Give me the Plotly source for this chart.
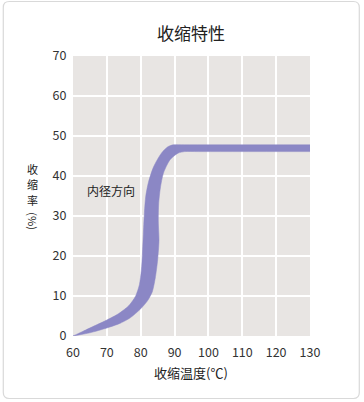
import plotly.graph_objects as go

# upper / left boundary of the band
upper_x = [60, 63, 66.5, 70, 73.5, 76.5, 78.5, 79.6, 80.2, 80.5, 80.8, 81.1, 81.5, 82.3, 83.8, 86.1, 88, 89.6, 93, 130]
upper_y = [0, 1.2, 2.6, 4.0, 5.6, 7.6, 10, 12.8, 16.5, 20.5, 26, 31, 35, 38.5, 42.3, 45.7, 47.3, 47.8, 47.8, 47.8]
# lower / right boundary of the band
lower_x = [60, 65, 70, 74, 77, 80, 82, 83.4, 84.3, 85.0, 85.4, 85.2, 85.3, 85.8, 86.7, 88.6, 91, 93, 97, 130]
lower_y = [0, 0.8, 2.0, 3.2, 4.6, 6.8, 8.8, 11, 14.5, 19, 24, 28.5, 33, 37, 40.7, 44, 45.7, 46.1, 46.1, 46.1]

x_ticks = [60, 70, 80, 90, 100, 110, 120, 130]
y_ticks = [0, 10, 20, 30, 40, 50, 60, 70]

band_color = "#8b87c5"
font_family = "Noto Sans CJK JP, Noto Sans, sans-serif"

fig = go.Figure()
fig.add_trace(go.Scatter(x=lower_x, y=lower_y, mode="lines",
                         line=dict(color=band_color, width=0.5, shape="spline", smoothing=0.7),
                         hoverinfo="skip", showlegend=False))
fig.add_trace(go.Scatter(x=upper_x, y=upper_y, mode="lines", fill="tonexty",
                         fillcolor=band_color,
                         line=dict(color=band_color, width=0.5, shape="spline", smoothing=0.7),
                         hoverinfo="skip", showlegend=False))

W, H = 364, 402
L, R, T, B = 72.5, 310.5, 56, 336
pw, ph = R - L, B - T

def px(x):
    return (x - L) / pw

def py(y):
    return (B - y) / ph

# rounded border around the whole chart
x0, x1, y0, y1, r = 2.5, 360, 1.5, 398.5, 6
path = (f"M {px(x0+r)},{py(y0)} L {px(x1-r)},{py(y0)} Q {px(x1)},{py(y0)} {px(x1)},{py(y0+r)} "
        f"L {px(x1)},{py(y1-r)} Q {px(x1)},{py(y1)} {px(x1-r)},{py(y1)} "
        f"L {px(x0+r)},{py(y1)} Q {px(x0)},{py(y1)} {px(x0)},{py(y1-r)} "
        f"L {px(x0)},{py(y0+r)} Q {px(x0)},{py(y0)} {px(x0+r)},{py(y0)} Z")
fig.add_shape(type="path", path=path, xref="paper", yref="paper",
              line=dict(color="#d9d9d9", width=1.2), layer="below")

txt_font = dict(size=12, color="#222", family=font_family)
fig.add_annotation(x=71.3, y=36.5, xref="x", yref="y", text="内径方向", showarrow=False,
                   font=txt_font)
lab_font = dict(size=11, color="#222", family=font_family)
for ch, yy in [("收", 168.5), ("缩", 184), ("率", 199.5)]:
    fig.add_annotation(x=px(32), y=py(yy), xref="paper", yref="paper", text=ch,
                       showarrow=False, xanchor="center", yanchor="middle", borderpad=0,
                       font=lab_font)
fig.add_annotation(x=px(32), y=py(221), xref="paper", yref="paper", text="(%)",
                   showarrow=False, textangle=90, xanchor="center", yanchor="middle",
                   borderpad=0, font=lab_font)
fig.add_annotation(x=px(191), y=py(372), xref="paper", yref="paper", text="收缩温度(℃)",
                   showarrow=False, xanchor="center", yanchor="middle",
                   font=dict(size=13, color="#222", family=font_family))

fig.update_layout(
    width=W, height=H,
    margin=dict(l=L, r=W - R, t=T, b=H - B),
    paper_bgcolor="white", plot_bgcolor="#e8e5e3",
    title=dict(text="收缩特性", x=191 / W, xanchor="center", y=1 - 34 / H, yanchor="middle",
               font=dict(size=17, color="#222", family=font_family)),
    font=dict(family=font_family, color="#333"),
    xaxis=dict(range=[60, 130], tickvals=x_ticks, ticktext=[str(v) for v in x_ticks],
               showgrid=True, gridcolor="white", gridwidth=1.5, zeroline=False,
               showline=False, ticks="outside", ticklen=5, tickcolor="rgba(0,0,0,0)",
               tickfont=dict(size=12.5, color="#333"), fixedrange=True),
    yaxis=dict(range=[0, 70], tickvals=y_ticks, ticktext=[str(v) for v in y_ticks],
               showgrid=True, gridcolor="white", gridwidth=1.5, zeroline=False,
               showline=False, ticks="outside", ticklen=3, tickcolor="rgba(0,0,0,0)",
               tickfont=dict(size=12.5, color="#333"), fixedrange=True),
)

fig.write_html("out.html", config={"displayModeBar": False},
               post_script="document.body.style.margin='0';document.body.style.overflow='hidden';")
